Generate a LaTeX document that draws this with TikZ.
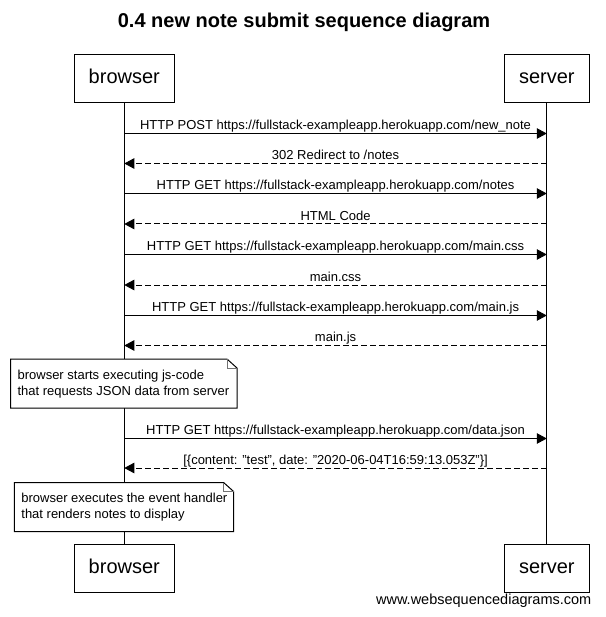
\documentclass[tikz,border=0pt]{standalone}
\usepackage{fontspec}
\setmainfont{Liberation Sans}
\usetikzlibrary{arrows.meta}
\begin{document}
\begin{tikzpicture}[x=1pt,y=-1pt,
  actor/.style={draw, line width=1pt, fill=white, minimum height=48.5pt, inner sep=0pt,
    text height=14.5pt, text depth=4.2pt, font=\fontsize{20}{24}\selectfont},
  lifeline/.style={line width=1pt},
  msg/.style={line width=1pt, -{Triangle[length=10pt,width=10.5pt]}},
  reply/.style={msg, dash pattern=on 6pt off 3pt},
  lbl/.style={font=\fontsize{13}{15}\selectfont, inner sep=0pt, text height=9.5pt, text depth=2.7pt, yshift=7pt},
  notetext/.style={inner sep=0pt, align=left, anchor=west, font=\fontsize{13}{16.6}\selectfont},
  noteline/.style={line width=1pt, fill=white},
  fold/.style={line width=0.8pt, draw=black!55},
]
\useasboundingbox (0,0) rectangle (605,617);

% title
\node[font=\bfseries\fontsize{20}{24}\selectfont] (title) at (304,22) {0.4 new note submit sequence diagram};

% participants
\node[actor, minimum width=100.5pt] (bt) at (124.3,78.5) {browser};
\node[actor, minimum width=84.5pt]  (st) at (546.8,78.5) {server};
\node[actor, minimum width=100.5pt] (bb) at (124.3,568.5) {browser};
\node[actor, minimum width=84.5pt]  (sb) at (546.8,568.5) {server};

\draw[lifeline] (bt.south) -- (bb.north);
\draw[lifeline] (st.south) -- (sb.north);

% message rows
\foreach \i/\y in {1/133.5,2/163.5,3/193.5,4/224,5/254.5,6/285,7/315.5,8/345.5,9/438.5,10/468}{
  \coordinate (L\i) at (124.3,\y);
  \coordinate (R\i) at (546.8,\y);
}

\draw[msg]   (L1) -- (R1) node[lbl, midway] (m1) {HTTP POST https://fullstack-exampleapp.herokuapp.com/new\_note};
\draw[reply] (R2) -- (L2) node[lbl, midway] (m2) {302 Redirect to /notes};
\draw[msg]   (L3) -- (R3) node[lbl, midway] (m3) {HTTP GET https://fullstack-exampleapp.herokuapp.com/notes};
\draw[reply] (R4) -- (L4) node[lbl, midway] (m4) {HTML Code};
\draw[msg]   (L5) -- (R5) node[lbl, midway] (m5) {HTTP GET https://fullstack-exampleapp.herokuapp.com/main.css};
\draw[reply] (R6) -- (L6) node[lbl, midway] (m6) {main.css};
\draw[msg]   (L7) -- (R7) node[lbl, midway] (m7) {HTTP GET https://fullstack-exampleapp.herokuapp.com/main.js};
\draw[reply] (R8) -- (L8) node[lbl, midway] (m8) {main.js};
\draw[msg]   (L9) -- (R9) node[lbl, midway] (m9) {HTTP GET https://fullstack-exampleapp.herokuapp.com/data.json};
\draw[reply] (R10) -- (L10) node[lbl, midway] (m10) {[\{content: "test", date: "2020-06-04T16:59:13.053Z"\}]};

% note 1
\coordinate (n1nw) at (10.5,359);
\coordinate (n1se) at (237,408);
\draw[noteline] ([xshift=-10pt]n1se |- n1nw) -- (n1nw) -- (n1nw |- n1se) -- (n1se)
  -- ([yshift=-9pt]n1se |- n1nw) -- cycle;
\draw[fold] ([xshift=-10pt]n1se |- n1nw) -- ([xshift=-10pt,yshift=-9pt]n1se |- n1nw) -- ([yshift=-9pt]n1se |- n1nw);
\node[notetext] (n1) at (17.4,384) {browser starts executing js-code\\that requests JSON data from server};

% note 2
\coordinate (n2nw) at (14.3,482.5);
\coordinate (n2se) at (233.6,531.5);
\draw[noteline] ([xshift=-10pt]n2se |- n2nw) -- (n2nw) -- (n2nw |- n2se) -- (n2se)
  -- ([yshift=-9pt]n2se |- n2nw) -- cycle;
\draw[fold] ([xshift=-10pt]n2se |- n2nw) -- ([xshift=-10pt,yshift=-9pt]n2se |- n2nw) -- ([yshift=-9pt]n2se |- n2nw);
\node[notetext] (n2) at (21.2,507) {browser executes the event handler\\that renders notes to display};

% watermark
\node[anchor=east, inner sep=0pt, font=\fontsize{14.5}{17}\selectfont] (wm) at (591.5,601) {www.websequencediagrams.com};
\end{tikzpicture}
\end{document}
